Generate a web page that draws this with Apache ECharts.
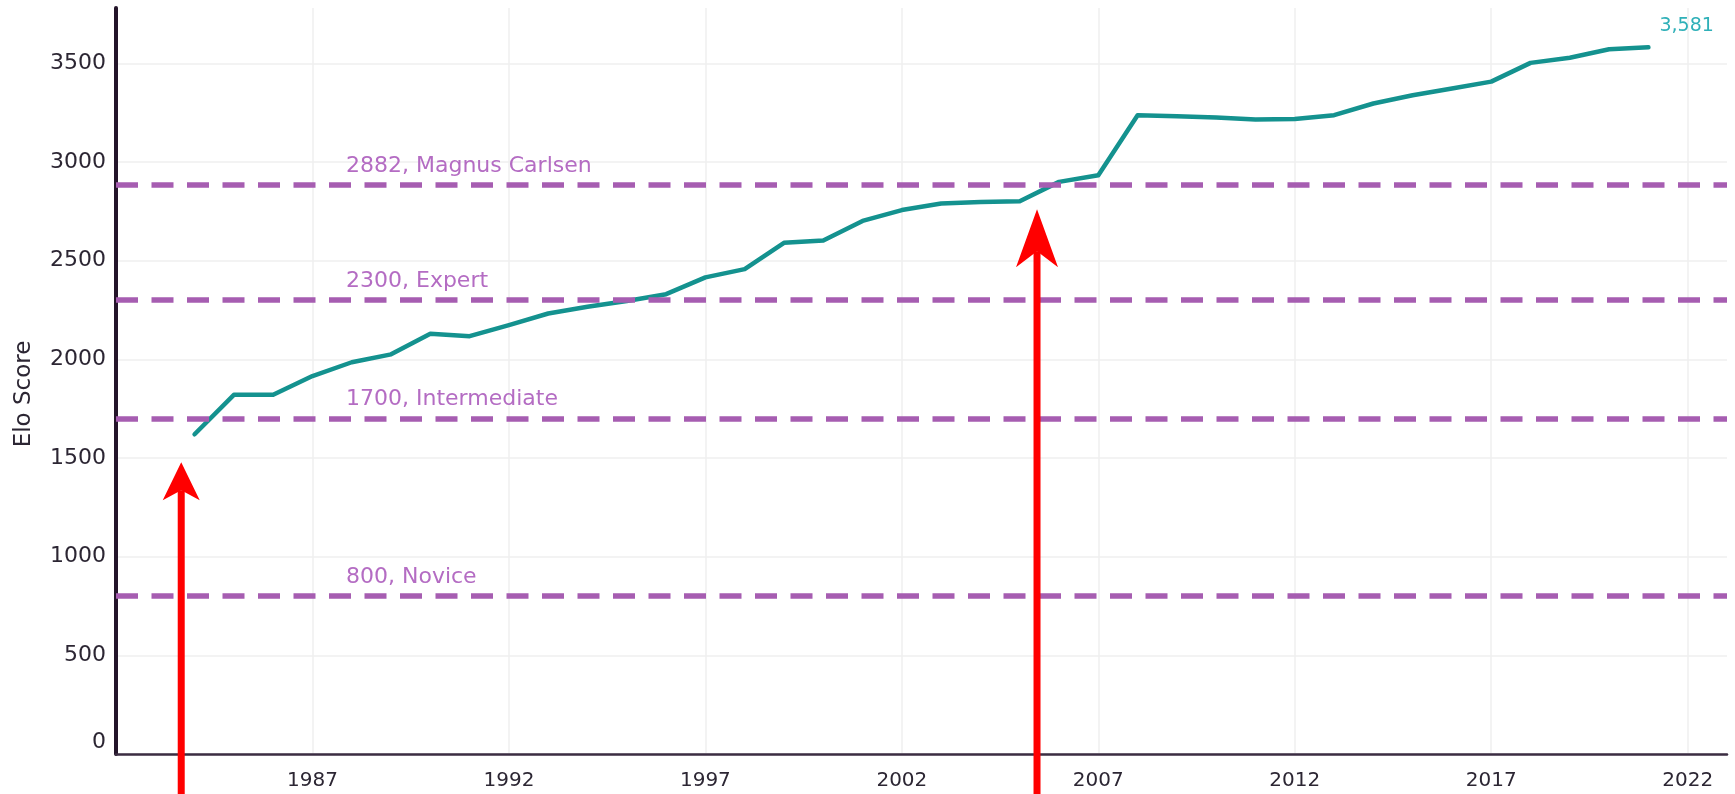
<!DOCTYPE html>
<html>
<head>
<meta charset="utf-8">
<script src="https://cdn.jsdelivr.net/npm/echarts@6/dist/echarts.min.js"></script>
<style>
  html, body { margin: 0; padding: 0; background: #fff; }
  #chart { width: 1735px; height: 794px; }
</style>
</head>
<body>
<div id="chart"></div>
<script>
// data
const years = [1984, 1985, 1986, 1987, 1988, 1989, 1990, 1991, 1992, 1993,
  1994, 1995, 1996, 1997, 1998, 1999, 2000, 2001, 2002, 2003,
  2004, 2005, 2006, 2007, 2008, 2009, 2010, 2011, 2012, 2013,
  2014, 2015, 2016, 2017, 2018, 2019, 2020, 2021];
const elo = [1620, 1820, 1820, 1915, 1985, 2025, 2130, 2117, 2173, 2232,
  2266, 2295, 2330, 2415, 2457, 2590, 2602, 2701, 2756, 2789,
  2797, 2801, 2899, 2933, 3237, 3232, 3225, 3215, 3217, 3237,
  3296, 3338, 3372, 3407, 3502, 3528, 3571, 3581];

// reference levels
const levelValues = [800, 1700, 2300, 2882];
const levelNames = ['Novice', 'Intermediate', 'Expert', 'Magnus Carlsen'];

// tick labels
const xTicks = [1987, 1992, 1997, 2002, 2007, 2012, 2017, 2022];
const yTicks = [0, 500, 1000, 1500, 2000, 2500, 3000, 3500];

// red annotation arrows (year, value at the tip)
const arrowYears = [1983.66, 2005.44];
const arrowTips = [1478, 2760];

const textColor = '#2c2633';
const purple = '#a65db1';
const teal = '#14928f';

const chart = echarts.init(document.getElementById('chart'));

const option = {
  animation: false,
  backgroundColor: '#fff',
  textStyle: { fontFamily: 'DejaVu Sans' },
  grid: { left: 116, right: 8, top: 8, bottom: 40, outerBoundsMode: 'none' },
  xAxis: {
    type: 'value',
    min: 1982,
    max: 2023,
    axisLine: { lineStyle: { color: '#3b2d42', width: 2.5 } },
    axisTick: { show: false, customValues: xTicks },
    axisLabel: {
      customValues: xTicks,
      formatter: v => String(v),
      color: textColor,
      fontSize: 20,
      margin: 17
    },
    splitLine: { show: true, lineStyle: { color: '#efefef', width: 1.5 } }
  },
  yAxis: {
    type: 'value',
    min: 0,
    max: 3780,
    name: 'Elo Score',
    nameLocation: 'middle',
    nameGap: 80,
    nameTextStyle: { color: textColor, fontSize: 23, padding: [0, 26, 0, 0] },
    axisLine: { show: true, lineStyle: { color: '#24152a', width: 4 } },
    axisTick: { show: false, customValues: yTicks },
    axisLabel: {
      customValues: yTicks,
      formatter: v => (v === 0 ? '{z|0}' : String(v)),
      color: textColor,
      fontSize: 22,
      margin: 10,
      rich: { z: { color: textColor, fontSize: 22, padding: [0, 0, 24, 0] } }
    },
    splitLine: { show: true, lineStyle: { color: '#efefef', width: 1.5 } }
  },
  series: [
    {
      type: 'line',
      data: years.map((y, i) => [y, elo[i]]),
      showSymbol: false,
      lineStyle: { color: teal, width: 4.5, cap: 'round', join: 'round' },
      itemStyle: { color: teal },
      endLabel: {
        show: true,
        formatter: p => p.value[1].toLocaleString('en-US'),
        color: '#2fb0b8',
        fontSize: 19,
        offset: [3, -21]
      },
      markLine: {
        silent: true,
        symbol: 'none',
        lineStyle: { color: purple, width: 5.5, type: [22, 13.5], cap: 'butt', opacity: 1 },
        label: {
          position: 'insideStartTop',
          distance: [230, 8],
          formatter: p => p.value + ', ' + p.name,
          color: '#b46cc3',
          fontSize: 22
        },
        emphasis: { disabled: true },
        data: levelValues.map((v, i) => ({ yAxis: v, name: levelNames[i] }))
      },
      z: 3
    }
  ]
};

chart.setOption(option);

// arrows: positions come from the chart's own scales
const arrowHeads = [{ len: 38, w: 37, notch: 10 }, { len: 58, w: 42, notch: 16 }];
const elements = [];
arrowYears.forEach((yr, i) => {
  const tip = chart.convertToPixel({ gridIndex: 0 }, [yr, arrowTips[i]]);
  const base = chart.convertToPixel({ gridIndex: 0 }, [yr, -300]);
  const h = arrowHeads[i];
  elements.push({
    type: 'line',
    z: 100,
    shape: { x1: tip[0], y1: base[1], x2: tip[0], y2: tip[1] + h.len - h.notch },
    style: { stroke: '#ff0000', lineWidth: 7 }
  });
  elements.push({
    type: 'polygon',
    z: 100,
    shape: {
      points: [
        [tip[0], tip[1]],
        [tip[0] + h.w / 2, tip[1] + h.len],
        [tip[0], tip[1] + h.len - h.notch],
        [tip[0] - h.w / 2, tip[1] + h.len]
      ]
    },
    style: { fill: '#ff0000' }
  });
});
chart.setOption({ graphic: elements });
</script>
</body>
</html>
